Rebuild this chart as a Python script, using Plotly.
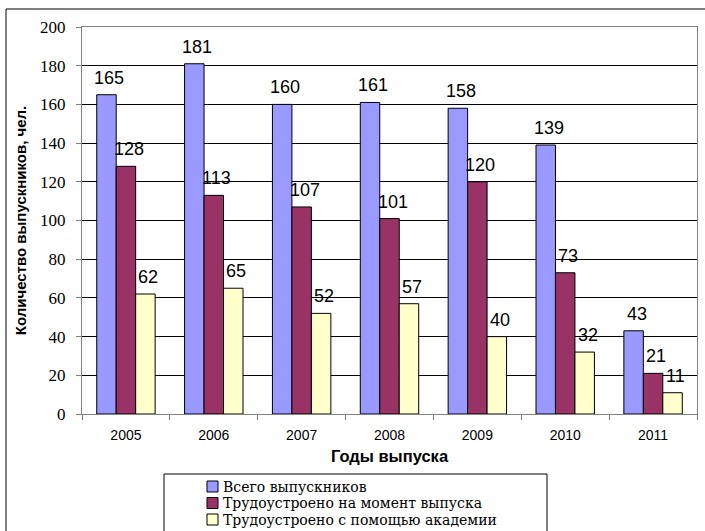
import plotly.graph_objects as go

years = ["2005", "2006", "2007", "2008", "2009", "2010", "2011"]
total = [165, 181, 160, 161, 158, 139, 43]
employed_at_grad = [128, 113, 107, 101, 120, 73, 21]
employed_via_academy = [62, 65, 52, 57, 40, 32, 11]
series_names = ["Всего выпускников", "Трудоустроено на момент выпуска", "Трудоустроено с помощью академии"]
series_colors = ["#9999FF", "#993366", "#FFFFCC"]
y_ticks = list(range(0, 201, 20))

series_values = [total, employed_at_grad, employed_via_academy]

W, H = 705, 531
ML, MR, MT, MB = 82, 8, 27, 117
plot_w = W - ML - MR
plot_h = H - MT - MB
BARGAP = 0.335
cat_w = plot_w / len(years)
bar_w = cat_w * (1 - BARGAP) / len(series_values)

fig = go.Figure()
for name, vals, col in zip(series_names, series_values, series_colors):
    fig.add_trace(go.Bar(
        x=years, y=vals, name=name,
        marker=dict(color=col, line=dict(color="#000000", width=1)),
        showlegend=False,
    ))

annotations = []
for i, vals in enumerate(series_values):
    for j, v in enumerate(vals):
        annotations.append(dict(
            x=j, y=v, xref="x", yref="y", text=str(v), showarrow=False,
            xanchor="center", yanchor="bottom",
            xshift=(i - 1) * bar_w + 3, yshift=5,
            font=dict(family="Liberation Sans, Arial", size=18, color="#000000"),
        ))

def px_x(px):
    return (px - ML) / plot_w

def px_y(py):
    return (H - MB - py) / plot_h

shapes = []
# outer chart border
shapes.append(dict(type="rect", xref="paper", yref="paper",
                   x0=px_x(6), x1=px_x(720), y0=px_y(545), y1=px_y(9),
                   line=dict(color="#000000", width=1), fillcolor="rgba(0,0,0,0)", layer="below"))
# legend box
shapes.append(dict(type="rect", xref="paper", yref="paper",
                   x0=px_x(164), x1=px_x(547), y0=px_y(545), y1=px_y(474),
                   line=dict(color="#000000", width=1), fillcolor="#FFFFFF"))
leg_y = [486.5, 503, 519.5]
for name, col, ly in zip(series_names, series_colors, leg_y):
    shapes.append(dict(type="rect", xref="paper", yref="paper",
                       x0=px_x(207), x1=px_x(218), y0=px_y(ly + 5.5), y1=px_y(ly - 5.5),
                       line=dict(color="#000000", width=1), fillcolor=col))
    annotations.append(dict(x=px_x(222), y=px_y(ly), xref="paper", yref="paper",
                            text=name, showarrow=False, xanchor="left", yanchor="middle",
                            borderpad=0,
                            font=dict(family="DejaVu Serif", size=14, color="#000000")))

fig.update_layout(
    width=W, height=H,
    margin=dict(l=ML, r=MR, t=MT, b=MB, pad=0),
    paper_bgcolor="#FFFFFF", plot_bgcolor="#FFFFFF",
    barmode="group", bargap=BARGAP, bargroupgap=0,
    showlegend=False,
    annotations=annotations, shapes=shapes,
    xaxis=dict(
        type="category", range=[-0.5, len(years) - 0.5], autorange=False,
        showgrid=False, showline=True, linecolor="#808080", linewidth=1,
        mirror=True, ticks="outside", ticklen=5, tickcolor="#808080", tickson="boundaries",
        tickangle=0,
        tickfont=dict(family="Liberation Sans, Arial", size=14, color="#000000"),
        ticklabelstandoff=8,
        title=dict(text="<b>Годы выпуска</b>", standoff=8,
                   font=dict(family="Liberation Sans, Arial", size=16.5, color="#000000")),
    ),
    yaxis=dict(
        range=[0, 200], autorange=False, tickvals=y_ticks, showgrid=True, gridcolor="#000000", gridwidth=1,
        showline=True, linecolor="#808080", linewidth=1, mirror=True,
        ticks="outside", ticklen=5, tickcolor="#808080", zeroline=False,
        tickfont=dict(family="Liberation Serif, Times New Roman", size=17, color="#000000"),
        ticklabelstandoff=7,
        title=dict(text="<b>Количество выпускников, чел.</b>", standoff=9,
                   font=dict(family="Liberation Sans, Arial", size=15, color="#000000")),
    ),
)

fig.write_html("out.html")
